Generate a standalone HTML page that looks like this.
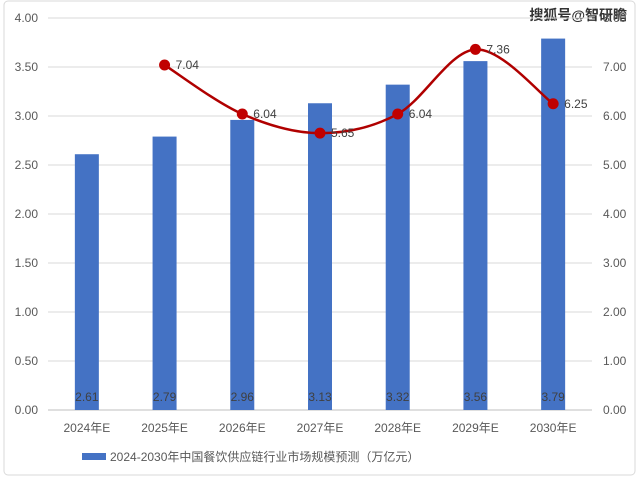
<!DOCTYPE html>
<html><head><meta charset="utf-8"><style>
body{margin:0;background:#fff;}
svg text{font-family:"Liberation Sans","Noto Sans CJK SC",sans-serif;}
</style></head><body>
<svg id="c" width="640" height="479" xmlns="http://www.w3.org/2000/svg">
<rect x="4" y="1" width="631" height="474" rx="4" fill="#fff" stroke="#d9d9d9"/>
<text x="627" y="20" text-anchor="end" font-size="14" font-weight="bold" fill="#333">搜狐号@智研瞻</text>
<g id="grid"></g><g id="bars"></g><g id="line"></g><g id="labels"></g>
<g>
<rect x="82" y="453" width="24" height="7" fill="#4472C4"/>
<text x="110" y="461" font-size="12" fill="#595959">2024-2030年中国餐饮供应链行业市场规模预测（万亿元）</text>
</g>
</svg>
<script>
const categories=["2024年E","2025年E","2026年E","2027年E","2028年E","2029年E","2030年E"];
const barValues=[2.61,2.79,2.96,3.13,3.32,3.56,3.79];
const lineValues=[null,7.04,6.04,5.65,6.04,7.36,6.25];
const leftTicks=[0,0.5,1,1.5,2,2.5,3,3.5,4];
const rightTicks=[0,1,2,3,4,5,6,7,8];
const NS="http://www.w3.org/2000/svg";
const x0=48,x1=592,y0=410,yTop=18;
const bw=(x1-x0)/categories.length;
const xc=i=>x0+bw*(i+0.5);
const yL=v=>y0-(v/4)*(y0-yTop);
const yR=v=>y0-(v/8)*(y0-yTop);
function mk(tag,attrs,parent,txt){const e=document.createElementNS(NS,tag);for(const k in attrs)e.setAttribute(k,attrs[k]);if(txt!==undefined)e.textContent=txt;document.getElementById(parent).appendChild(e);return e;}
leftTicks.forEach(t=>{
 const y=yL(t);
 const g=mk('line',{x1:x0,x2:x1,y1:y,y2:y,stroke:t===0?'#bfbfbf':'#d9d9d9'},'grid');
 
 
 const l=mk('text',{x:38,y:y+4,'text-anchor':'end','font-size':12,fill:'#595959'},'labels',t.toFixed(2));
 
 
});
rightTicks.forEach(t=>{
 const l=mk('text',{x:603,y:yR(t)+4,'font-size':12,fill:'#595959'},'labels',t.toFixed(2));
 
 
});
categories.forEach((c,i)=>{
 const v=barValues[i];
 const b=mk('rect',{x:xc(i)-12,y:yL(v),width:24,height:y0-yL(v),fill:'#4472C4'},'bars');
 
 
 const bl=mk('text',{x:xc(i),y:401,'text-anchor':'middle','font-size':12,fill:'#404040'},'labels',v.toFixed(2));
 
 
 const cl=mk('text',{x:xc(i),y:432,'text-anchor':'middle','font-size':12,fill:'#595959'},'labels',c);
 
 
});
const pts=[];lineValues.forEach((v,i)=>{if(v!==null)pts.push([xc(i),yR(v),v]);});
let d='M'+pts[0][0]+','+pts[0][1];
for(let i=0;i<pts.length-1;i++){
 const p0=pts[Math.max(0,i-1)],p1=pts[i],p2=pts[i+1],p3=pts[Math.min(pts.length-1,i+2)];
 const c1=[p1[0]+(p2[0]-p0[0])/6,p1[1]+(p2[1]-p0[1])/6];
 const c2=[p2[0]-(p3[0]-p1[0])/6,p2[1]-(p3[1]-p1[1])/6];
 d+=` C${c1[0]},${c1[1]} ${c2[0]},${c2[1]} ${p2[0]},${p2[1]}`;
}
const ln=mk('path',{d:d,fill:'none',stroke:'#B00000','stroke-width':2.5},'line');


pts.forEach(p=>{
 const m=mk('circle',{cx:p[0],cy:p[1],r:5.5,fill:'#C00000'},'line');
 
 
 const t=mk('text',{x:p[0]+11,y:p[1]+4,'font-size':12,fill:'#404040'},'labels',p[2].toFixed(2));
 
 
});
</script>
</body></html>
